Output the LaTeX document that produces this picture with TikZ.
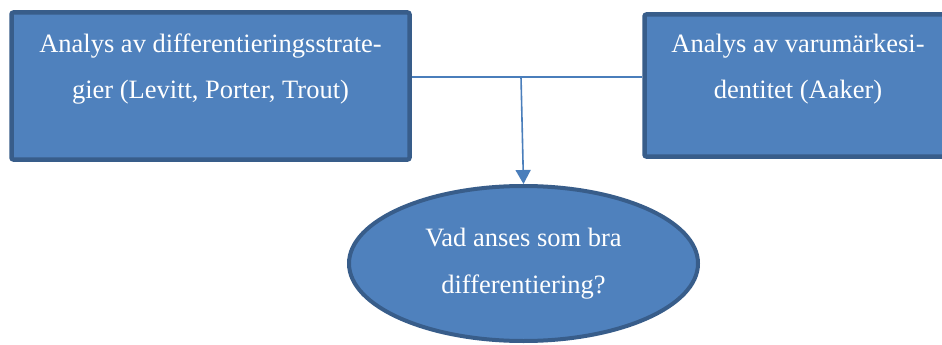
\documentclass[tikz,border=0pt]{standalone}
\usepackage{fontspec}
\setmainfont{Liberation Serif}
\usetikzlibrary{arrows.meta,shapes.geometric}
\definecolor{boxfill}{HTML}{4F81BD}
\definecolor{boxline}{HTML}{385D8A}
\definecolor{connline}{HTML}{4A7EBB}
\tikzset{
  stepbox/.style={draw=boxline,fill=boxfill,line width=4.5pt,rounded corners=2pt,inner sep=0pt,rectangle},
  goalell/.style={draw=boxline,fill=boxfill,line width=4pt,ellipse,inner sep=0pt,
    minimum width=349pt,minimum height=155pt,align=center,text=white,
    font=\fontsize{26.5}{47}\selectfont},
  boxtext/.style={align=center,text=white,inner sep=0pt,anchor=base,
    font=\fontsize{26.5}{47}\selectfont},
  conn/.style={draw=connline,line width=1.6pt}
}
\begin{document}
\begin{tikzpicture}[x=1pt,y=-1pt]
\clip (0,0) rectangle (942,345);
\fill[white] (0,0) rectangle (942,345);
\node[stepbox,minimum width=398pt,minimum height=147pt] (lbox) at (210.5,86) {};
\node[stepbox,minimum width=307.5pt,minimum height=142pt] (rbox) at (798.25,85.5) {};
\node[boxtext] (ltext) at (210.5,99) {Analys av differentieringsstrate-\\gier (Levitt, Porter, Trout)};
\node[boxtext] (rtext) at (798,99) {Analys av varumärkesi-\\dentitet (Aaker)};
\node[goalell] (goal) at (523.5,263.5) {Vad anses som bra\\differentiering?};
\coordinate (j) at (521,77);
\draw[conn] (lbox.east |- j) -- (rbox.west |- j);
\draw[conn,-{Triangle[width=15pt,length=14pt]}] (j) -- (goal.north);
\end{tikzpicture}
\end{document}
